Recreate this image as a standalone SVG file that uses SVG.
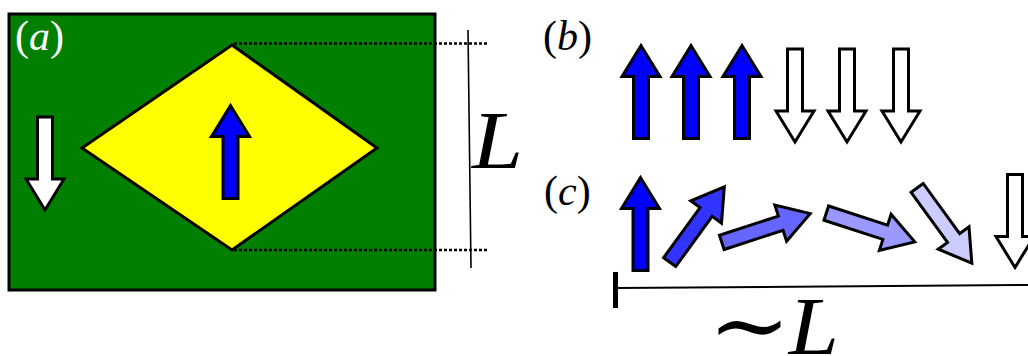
<svg xmlns="http://www.w3.org/2000/svg" width="1028" height="356" viewBox="0 0 1028 356">
<style>
.arr{stroke:#000;stroke-width:3;stroke-linejoin:miter}
.lbl{font-family:"Liberation Serif",serif;font-size:42px}
.big{font-family:"Liberation Serif",serif;font-size:82px;font-style:italic}
.dot{stroke:#000;stroke-width:2.5;stroke-dasharray:3 2;fill:none}
</style>
<defs>
<path id="ar" d="M-7.5,46.5 L7.5,46.5 L7.5,-15.5 L19,-15.5 L0,-46.5 L-19,-15.5 L-7.5,-15.5 Z"/>
</defs>
<g id="panel-a">
<rect x="9" y="14" width="426" height="276" fill="#007f00" stroke="#000" stroke-width="3"/>
<polygon points="232,45 377,148 232,250 82,148" fill="#ffff00" stroke="#000" stroke-width="3"/>
<text class="lbl" x="15" y="50" fill="#fff">(<tspan font-style="italic">a</tspan>)</text>
<use href="#ar" class="arr" fill="#fff" transform="translate(45,163.5) rotate(180)"/>
<use href="#ar" class="arr" fill="#0000ff" transform="translate(230.5,152)"/>
</g>
<g id="dimension-L">
<line class="dot" x1="234" y1="43.5" x2="487" y2="43.5"/>
<line class="dot" x1="234" y1="250" x2="487" y2="250"/>
<line x1="468" y1="30" x2="471" y2="268" stroke="#000" stroke-width="1.6"/>
<text class="big" transform="translate(472,168) scale(1.12,1)" x="0" y="0">L</text>
</g>
<g id="panel-b">
<text class="lbl" x="543" y="50" fill="#000">(<tspan font-style="italic">b</tspan>)</text>
<use href="#ar" class="arr" fill="#0000ff" transform="translate(641,92)"/>
<use href="#ar" class="arr" fill="#0000ff" transform="translate(691,92)"/>
<use href="#ar" class="arr" fill="#0000ff" transform="translate(742,92)"/>
<use href="#ar" class="arr" fill="#fff" transform="translate(795,95.5) rotate(180)"/>
<use href="#ar" class="arr" fill="#fff" transform="translate(847,95.5) rotate(180)"/>
<use href="#ar" class="arr" fill="#fff" transform="translate(901,95.5) rotate(180)"/>
</g>
<g id="panel-c">
<text class="lbl" x="544" y="205" fill="#000">(<tspan font-style="italic">c</tspan>)</text>
<use href="#ar" class="arr" fill="#0000ff" transform="translate(640.5,224)"/>
<use href="#ar" class="arr" fill="#3333ff" transform="translate(697,224.5) rotate(36)"/>
<use href="#ar" class="arr" fill="#6666ff" transform="translate(766,228) rotate(72)"/>
<use href="#ar" class="arr" fill="#9999ff" transform="translate(870.5,227.5) rotate(108)"/>
<use href="#ar" class="arr" fill="#ccccff" transform="translate(944.5,225.5) rotate(144)"/>
<use href="#ar" class="arr" fill="#fff" transform="translate(1015,221) rotate(180)"/>
</g>
<g id="connectors">
<line x1="616" y1="288" x2="1028" y2="285" stroke="#000" stroke-width="2"/>
<rect x="613" y="272" width="5" height="36" fill="#000"/>
<text transform="translate(708,354) scale(1.1,1)" x="0" y="0" class="big"><tspan font-family="DejaVu Serif, serif" font-style="normal" font-size="90" dy="2">∼</tspan><tspan dx="-2" dy="-2">L</tspan></text>
</g>
</svg>
